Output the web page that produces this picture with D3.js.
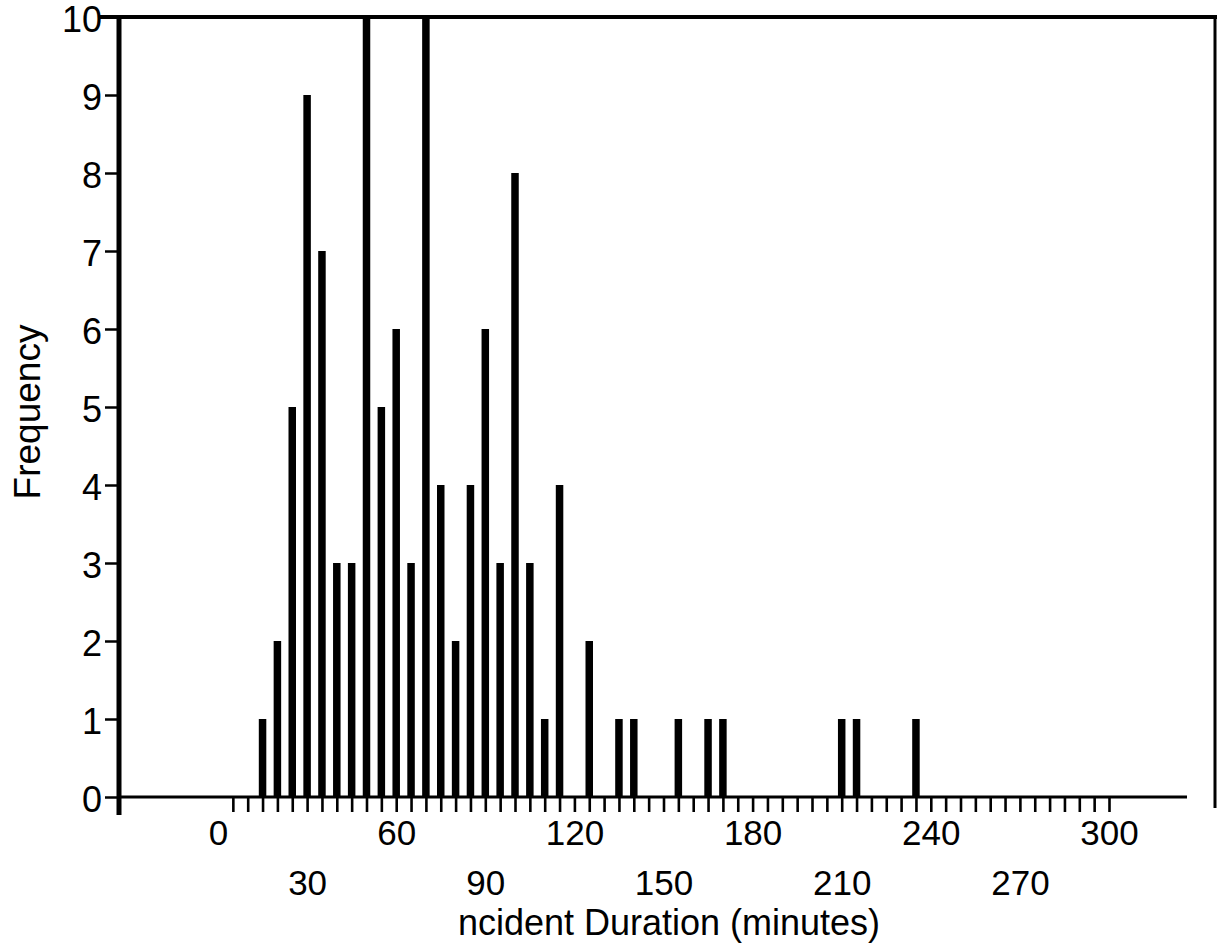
<!DOCTYPE html>
<html><head><meta charset="utf-8">
<script src="https://cdn.jsdelivr.net/npm/d3@7"></script>
<style>
html,body{margin:0;padding:0;background:#fff;}
svg{display:block;}
text{font-family:"Liberation Sans",Arial,Helvetica,sans-serif;fill:#000;}
</style>
</head><body>
<svg id="chart" width="1217" height="947"></svg>
<script>
// ---- data ----
const durations   = [15,20,25,30,35,40,45,50,55,60,65,70,75,80,85,90,95,100,105,110,115,125,135,140,155,165,170,210,215,235];
const frequencies = [1, 2, 5, 9, 7, 3, 3, 10,5, 6, 3, 10,4, 2, 4, 6, 3, 8,  3,  1,  4,  2,  1,  1,  1,  1,  1,  1,  1,  1];
const yTickValues = [0,1,2,3,4,5,6,7,8,9,10];
const xLabelsRow1 = [0,60,120,180,240,300];
const xLabelsRow2 = [30,90,150,210,270];
const xMinorTicks = [5,10,15,20,25,30,35,40,45,50,55,60,65,70,75,80,85,90,95,100,105,110,115,120,125,130,135,140,145,150,
                     155,160,165,170,175,180,185,190,195,200,205,210,215,220,225,230,235,240,245,250,255,260,265,270,275,280,285,290,295,300];
const xTitle = "ncident Duration (minutes)";
const yTitle = "Frequency";

// ---- layout ----
const axisLeftX = 119, baseY = 797, topY = 17, plotRight = 1187, frameRight = 1215;
const x = d3.scaleLinear().domain([0,300]).range([218,1109]);
const y = d3.scaleLinear().domain([0,10]).range([baseY, topY]);
const svg = d3.select("#chart");
const barW = 7.5;

// bars
svg.append("g").selectAll("rect")
  .data(durations.map((d,i)=>({d, f: frequencies[i]})))
  .join("rect")
  .attr("x", p => x(p.d) - barW/2)
  .attr("width", barW)
  .attr("y", p => y(p.f))
  .attr("height", p => y(0) - y(p.f))
  .attr("fill", "#000");

// x minor ticks (every 5 minutes)
const gx = svg.append("g").attr("transform", `translate(0,${baseY})`)
  .call(d3.axisBottom(x).tickValues(xMinorTicks).tickSize(15).tickFormat(""));
gx.select(".domain").remove();
gx.selectAll(".tick line").attr("stroke","#000").attr("stroke-width",2.6);

// baseline
svg.append("line").attr("x1", axisLeftX).attr("x2", plotRight)
  .attr("y1", baseY).attr("y2", baseY).attr("stroke","#000").attr("stroke-width",3);

// x labels row 1 and row 2
const gl1 = svg.append("g").attr("transform", `translate(0,${baseY})`)
  .call(d3.axisBottom(x).tickValues(xLabelsRow1).tickSize(0).tickFormat(d3.format("d")));
gl1.select(".domain").remove();
gl1.selectAll("text").attr("y", 48).attr("dy", 0).style("font-size","35px");

const gl2 = svg.append("g").attr("transform", `translate(0,${baseY})`)
  .call(d3.axisBottom(x).tickValues(xLabelsRow2).tickSize(0).tickFormat(d3.format("d")));
gl2.select(".domain").remove();
gl2.selectAll("text").attr("y", 98).attr("dy", 0).style("font-size","35px");

// y axis
const gy = svg.append("g").attr("transform", `translate(${axisLeftX},0)`)
  .call(d3.axisLeft(y).tickValues(yTickValues).tickSize(14).tickPadding(3).tickFormat(d3.format("d")));
gy.select(".domain").remove();
gy.selectAll(".tick line").attr("stroke","#000").attr("stroke-width",2.5);
gy.selectAll("text").attr("dy","0.4em").style("font-size","36px");

// left axis line
svg.append("line").attr("x1", axisLeftX).attr("x2", axisLeftX)
  .attr("y1", topY).attr("y2", baseY + 18).attr("stroke","#000").attr("stroke-width",5);

// frame: top and right
svg.append("line").attr("x1", 100).attr("x2", 1217).attr("y1", topY).attr("y2", topY)
  .attr("stroke","#000").attr("stroke-width",4);
svg.append("line").attr("x1", frameRight).attr("x2", frameRight).attr("y1", topY - 2).attr("y2", baseY + 11)
  .attr("stroke","#000").attr("stroke-width",3);

// axis titles
svg.append("text").attr("x", 669).attr("y", 935).attr("text-anchor","middle")
  .style("font-size","36px").text(xTitle);
svg.append("text").attr("transform", `translate(40,412) rotate(-90)`).attr("text-anchor","middle")
  .style("font-size","37px").text(yTitle);
</script>
</body></html>
